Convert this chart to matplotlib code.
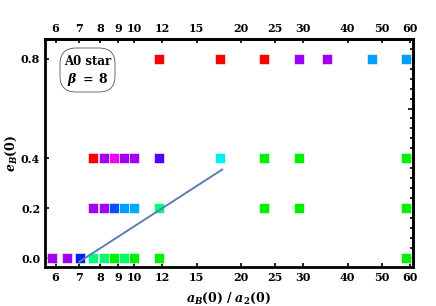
import matplotlib.pyplot as plt
from matplotlib.ticker import FixedLocator, MultipleLocator, NullFormatter, FixedFormatter
from matplotlib.patches import FancyBboxPatch

############# DATA ###############
# e_B(0) = 0.0
X_E00 = [5.86, 6.44, 7.02, 7.63, 8.20, 8.75, 9.36, 9.99, 11.73, 58.4]
C_E00 = ["#A000F0", "#A000F0", "#0020F0", "#00FF80", "#00FF70", "#00F000",
         "#00FF60", "#00F000", "#00F000", "#00F000"]
# e_B(0) = 0.2
X_E02 = [7.63, 8.20, 8.75, 9.36, 9.99, 11.73, 23.3, 29.2, 58.4]
C_E02 = ["#A000F0", "#A000F0", "#0050FF", "#00A0FF", "#00A8FF", "#00FF80",
         "#00F000", "#00F000", "#00F000"]
# e_B(0) = 0.4
X_E04 = [7.63, 8.20, 8.75, 9.36, 9.99, 11.73, 17.5, 23.3, 29.2, 58.4]
C_E04 = ["#FF0000", "#A000F0", "#F000F0", "#A000F0", "#A000F0", "#5000FF",
         "#00F0F0", "#00F000", "#00F000", "#00F000"]
# e_B(0) = 0.8
X_E08 = [11.73, 17.5, 23.3, 29.2, 35.0, 46.8, 58.4]
C_E08 = ["#FF0000", "#FF0000", "#FF0000", "#A000F0", "#A000F0", "#00A0FF", "#00A0FF"]

ROWS = [(0.0, X_E00, C_E00), (0.2, X_E02, C_E02), (0.4, X_E04, C_E04), (0.8, X_E08, C_E08)]

LINE_X = [7.0, 17.7]
LINE_Y = [-0.015, 0.355]

X_TICKS = [6, 7, 8, 9, 10, 12, 15, 20, 25, 30, 40, 50, 60]
Y_TICKS = [0.0, 0.2, 0.4, 0.8]
##################################

plt.rcParams["font.family"] = "DejaVu Serif"
plt.rcParams["mathtext.fontset"] = "dejavuserif"

fig = plt.figure(figsize=(4.36, 3.06), dpi=100)
ax = fig.add_axes([0.1032, 0.1275, 0.8438, 0.745])

for e, xs, cs in ROWS:
    ax.scatter(xs, [e] * len(xs), marker="s", s=52, c=cs,
               edgecolors="#ffffff", linewidths=0.4, zorder=3, clip_on=False)

ax.plot(LINE_X, LINE_Y, color="#5B7DB3", linewidth=1.4, zorder=4)

ax.set_xscale("log")
ax.set_xlim(5.6, 61.1)
ax.set_ylim(-0.036, 0.879)

ax.xaxis.set_major_locator(FixedLocator(X_TICKS))
ax.xaxis.set_major_formatter(FixedFormatter([str(t) for t in X_TICKS]))
ax.xaxis.set_minor_locator(FixedLocator([]))
ax.xaxis.set_minor_formatter(NullFormatter())
ax.yaxis.set_major_locator(FixedLocator(Y_TICKS))
ax.set_yticklabels(["0.0", "0.2", "0.4", "0.8"])

ax.tick_params(axis="both", which="major", direction="in", length=3, width=1.2,
               labelsize=8, right=False, top=False)
for lab in ax.get_xticklabels() + ax.get_yticklabels():
    lab.set_fontweight("bold")

# top axis with the same labels
top = ax.secondary_xaxis("top")
top.set_xticks(X_TICKS)
top.set_xticklabels([str(t) for t in X_TICKS], fontweight="bold", fontsize=8)
top.xaxis.set_minor_locator(FixedLocator([]))
top.tick_params(direction="in", length=3, width=1.2)
top.spines["top"].set_linewidth(2)

# right axis: majors every 0.2, minors every 0.04, no labels
right = ax.secondary_yaxis("right")
right.set_yticks([0.0, 0.2, 0.4, 0.6, 0.8])
right.yaxis.set_minor_locator(MultipleLocator(0.04))
right.yaxis.set_major_formatter(NullFormatter())
right.tick_params(which="major", direction="in", length=3.5, width=1.2)
right.tick_params(which="minor", direction="in", length=2, width=1.2)
right.spines["right"].set_linewidth(2)

for sp in ax.spines.values():
    sp.set_linewidth(2)

ax.set_xlabel(r"$\mathbfit{a}_{\mathbfit{B}}\mathbf{(0)\ /\ }\mathbfit{a}_{\mathbf{2}}\mathbf{(0)}$",
              fontsize=9, labelpad=6)
ax.set_ylabel(r"$\mathbfit{e}_{\mathbfit{B}}\mathbf{(0)}$", fontsize=9, labelpad=1)

# label box (in inches so the corners stay round)
box = FancyBboxPatch((0.60, 2.14), 0.55, 0.44,
                     boxstyle="round,pad=0,rounding_size=0.16",
                     transform=fig.dpi_scale_trans, facecolor="white",
                     edgecolor="#555555", linewidth=0.6, zorder=5)
fig.patches.append(box)
fig.text(87.5 / 436, 1 - 62 / 306, "A0 star", ha="center", va="center",
         fontsize=8.5, fontweight="bold", zorder=6)
fig.text(87.5 / 436, 1 - 79 / 306, r"$\mathbfit{\beta}\ \mathbf{=\ 8}$", ha="center",
         va="center", fontsize=9, zorder=6)

fig.savefig("out.png", dpi=100)
